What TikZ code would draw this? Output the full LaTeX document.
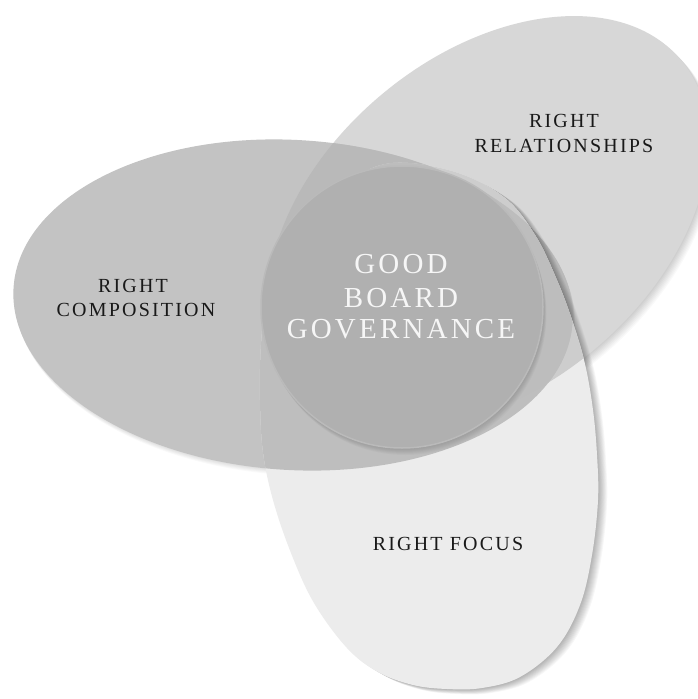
\documentclass[tikz,border=0pt]{standalone}
\usepackage{fontspec}
\setmainfont{Liberation Serif}
\newfontfamily\spaced[LetterSpace=11]{Liberation Serif}
\definecolor{cL}{RGB}{195,195,195}
\definecolor{cT}{RGB}{215,215,215}
\definecolor{cB}{RGB}{236,236,236}
\definecolor{cLT}{RGB}{185,185,185}
\definecolor{cLB}{RGB}{190,190,190}
\definecolor{cTB}{RGB}{205,205,205}
\definecolor{cLTB}{RGB}{189,189,189}
\definecolor{cC}{RGB}{176,176,176}
\definecolor{cRim}{RGB}{186,186,186}
\definecolor{labc}{RGB}{25,25,25}
\definecolor{ctrc}{RGB}{246,246,246}
\newcommand\Lpath[1]{\path[#1,rotate around={-3.5:(293,305)}] (293,305) ellipse [x radius=280, y radius=165];}
\newcommand\Tpath[1]{\path[#1,rotate around={40:(488,222)}] (488,222) ellipse [x radius=252, y radius=166];}
\newcommand\Bpath[1]{\path[#1] plot[smooth cycle, tension=0.6] coordinates {
 (393,163) (455,172) (505,198) (535,235) (556,278) (572,320) (585,364) (593,410) (597,455)
 (598,500) (592,555) (580,605) (557,647) (520,677) (482,688) (447,689) (413,685)
 (378,672) (347,648) (314,603) (291,553) (273,500) (263,452) (260,400) (261,345)
 (267,295) (283,250) (310,212) (348,181)};}
\newcommand\Cpath[1]{\path[#1] (402,307) circle [radius=141];}
\tikzset{
  lab/.style={font=\fontsize{20}{24}\selectfont\spaced, text=labc, anchor=base, inner sep=0pt},
  ctr/.style={font=\fontsize{29}{33}\selectfont\spaced, text=ctrc, anchor=base, inner sep=0pt}
}
\begin{document}
\begin{tikzpicture}[x=1pt,y=-1pt]
\useasboundingbox (0,0) rectangle (698,699);
\fill[white] (0,0) rectangle (698,699);
% top-right ellipse with soft shadow
\foreach \k in {1,...,8} {\Tpath{fill=black, fill opacity=0.022, xshift=\k*0.9pt, yshift=-\k*0.9pt}}
\Tpath{fill=cT}
% left ellipse with soft shadow
\foreach \k in {1,...,6} {\Lpath{fill=black, fill opacity=0.02, xshift=\k*0.4pt, yshift=-\k*0.9pt}}
\Lpath{fill=cL}
\begin{scope}\Lpath{clip}\Tpath{fill=cLT}\end{scope}
% bottom shape with soft shadow
\foreach \k in {1,...,10} {\Bpath{fill=black, fill opacity=0.03, xshift=\k*0.9pt, yshift=-\k*0.5pt}}
\Bpath{fill=cB}
\begin{scope}\Tpath{clip}\Bpath{fill=cTB}\end{scope}
\begin{scope}\Lpath{clip}\Bpath{fill=cLB}\end{scope}
\begin{scope}\Lpath{clip}\Tpath{clip}\Bpath{fill=cLTB}\end{scope}
% centre circle
\foreach \k in {1,...,7} {\Cpath{fill=black, fill opacity=0.022, xshift=\k*0.5pt, yshift=-\k*1.0pt}}
\Cpath{fill=cC, draw=cRim, line width=1.5pt}
% labels
\node[lab] (rr1) at (564,127) {RIGHT};
\node[lab] (rr2) at (564,152) {RELATIONSHIPS};
\node[lab] (rc1) at (133,292) {RIGHT};
\node[lab] (rc2) at (136,316) {COMPOSITION};
\node[ctr] (g1) at (401,273) {GOOD};
\node[ctr] (g2) at (401,307) {BOARD};
\node[ctr] (g3) at (401,338) {GOVERNANCE};
\node[lab] (rf) at (448,550) {RIGHT FOCUS};
\end{tikzpicture}
\end{document}
